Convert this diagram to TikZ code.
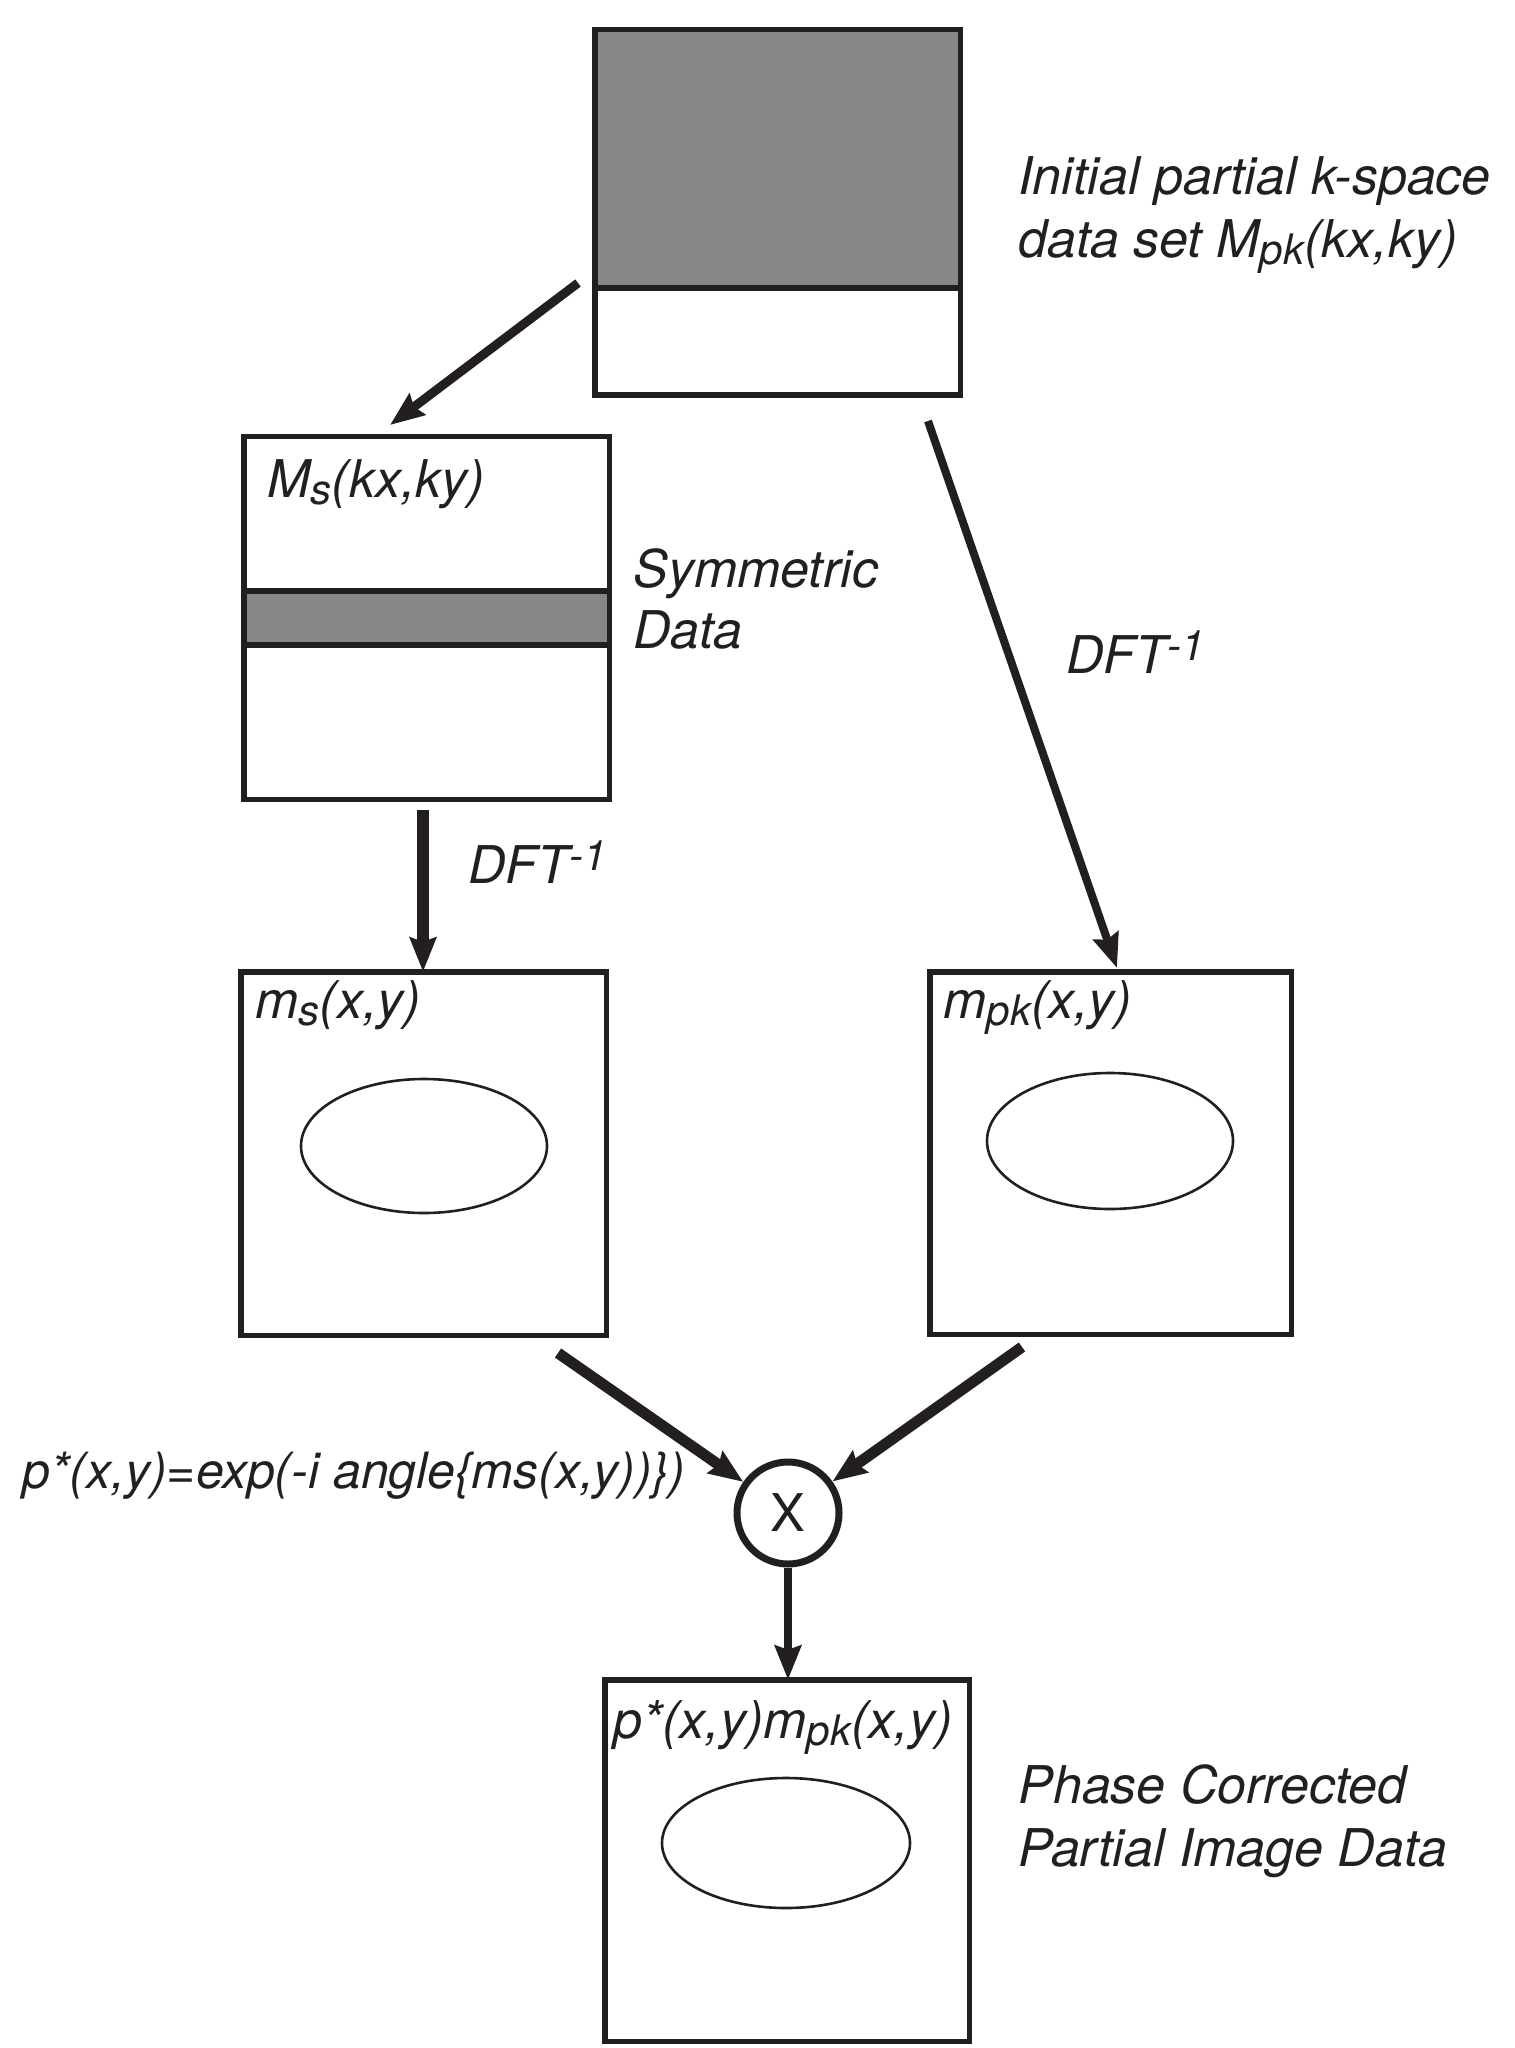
\documentclass[tikz,border=0pt]{standalone}
\usepackage{fontspec}
\setmainfont{TeX Gyre Heros}
\usetikzlibrary{arrows.meta,calc}
\definecolor{linec}{HTML}{231F20}
\definecolor{grayc}{HTML}{878787}
\definecolor{textc}{HTML}{231F20}
\newcommand{\lblfont}{\fontsize{26}{31}\selectfont\itshape}
\newcommand{\mysub}[1]{\raisebox{-3.5pt}{\fontsize{21}{21}\selectfont #1}}
\newcommand{\mysup}[1]{\raisebox{6.5pt}{\fontsize{21}{21}\selectfont #1}}
\tikzset{
  boxline/.style={draw=linec, line width=2.75pt},
  bx/.style={boxline, rectangle, inner sep=0pt, outer sep=0pt},
  lbl/.style={anchor=base west, inner sep=0pt, text=textc, font=\lblfont},
  arr/.style={draw=linec, -{Stealth[length=17pt,width=13pt,inset=2pt]}},
  ell/.style={draw=linec, line width=1.3pt},
}
\begin{document}
\begin{tikzpicture}[x=0.5pt,y=-0.5pt]
\useasboundingbox (0,0) rectangle (1514,2048);

% top box: initial partial k-space
\fill[grayc] (594.75,29.75) rectangle (960.25,288);
\node[bx, minimum width=182.75pt, minimum height=182.75pt] (top) at (777.5,212.5) {};
\draw[boxline] (594.75,288) -- (960.25,288);

% symmetric data box
\fill[grayc] (243.75,591) rectangle (609.25,645);
\node[bx, minimum width=182.75pt, minimum height=181.25pt] (Ms) at (426.5,618) {};
\draw[boxline] (243.75,591) -- (609.25,591);
\draw[boxline] (243.75,645) -- (609.25,645);

% image boxes
\node[bx, minimum width=182.75pt, minimum height=181.75pt] (ms) at (423.5,1153.5) {};
\node[bx, minimum width=180.75pt, minimum height=181.25pt] (mpk) at (1110.5,1153) {};
\node[bx, minimum width=182.25pt, minimum height=180.75pt] (out) at (787,1860.5) {};

% ellipses
\draw[ell] (424,1146) ellipse [x radius=61.5pt, y radius=33.5pt];
\draw[ell] (1110,1141) ellipse [x radius=61.5pt, y radius=34pt];
\draw[ell] (786,1843) ellipse [x radius=62pt, y radius=32.5pt];

% multiplier
\node[circle, draw=linec, line width=3.5pt, minimum size=51pt, inner sep=0pt,
      text=textc, font=\fontsize{26}{26}\selectfont\upshape] (mult) at (788,1513) {X};

% connectors
\coordinate (a1s) at (578,283);
\coordinate (a1e) at (390,425);
\coordinate (a2s) at (928,421);
\coordinate (a2e) at (1117,968);
\coordinate (a3s) at (423,810);
\coordinate (a4s) at (558,1353);
\coordinate (a5s) at (1022,1347);

\draw[arr, line width=4.5pt] (a1s) -- (a1e);
\draw[arr, line width=4pt] (a2s) -- (a2e);
\draw[arr, line width=6pt] (a3s) -- (a3s |- ms.north);
\draw[arr, line width=5.5pt] (a4s) -- (mult);
\draw[arr, line width=5.5pt] (a5s) -- (mult);
\draw[arr, line width=4pt] (mult.south) -- (mult.south |- out.north);

% labels
\node[lbl] (t1a) at (1018,195) {Initial partial k-space};
\node[lbl] (t1b) at (1018,258) {data set M\mysub{pk}(kx,ky)};
\node[lbl] (t2a) at (633,587) {Symmetric};
\node[lbl] (t2b) at (633,648) {Data};
\node[lbl] (t3) at (468,883) {DFT\mysup{-1}};
\node[lbl] (t4) at (1066,673) {DFT\mysup{-1}};
\node[lbl] (t5) at (267,497) {M\mysub{s}(kx,ky)};
\node[lbl] (t6) at (255,1018) {m\mysub{s}(x,y)};
\node[lbl] (t7) at (943,1018) {m\mysub{pk}(x,y)};
\node[lbl, font=\fontsize{25}{30}\selectfont\itshape] (t8) at (22,1488) {p*(x,y)=exp(-i angle\{ms(x,y))\})};
\node[lbl] (t9) at (613,1738) {p*(x,y)m\mysub{pk}(x,y)};
\node[lbl] (t10a) at (1018,1803) {Phase Corrected};
\node[lbl] (t10b) at (1018,1866) {Partial Image Data};
\end{tikzpicture}
\end{document}
